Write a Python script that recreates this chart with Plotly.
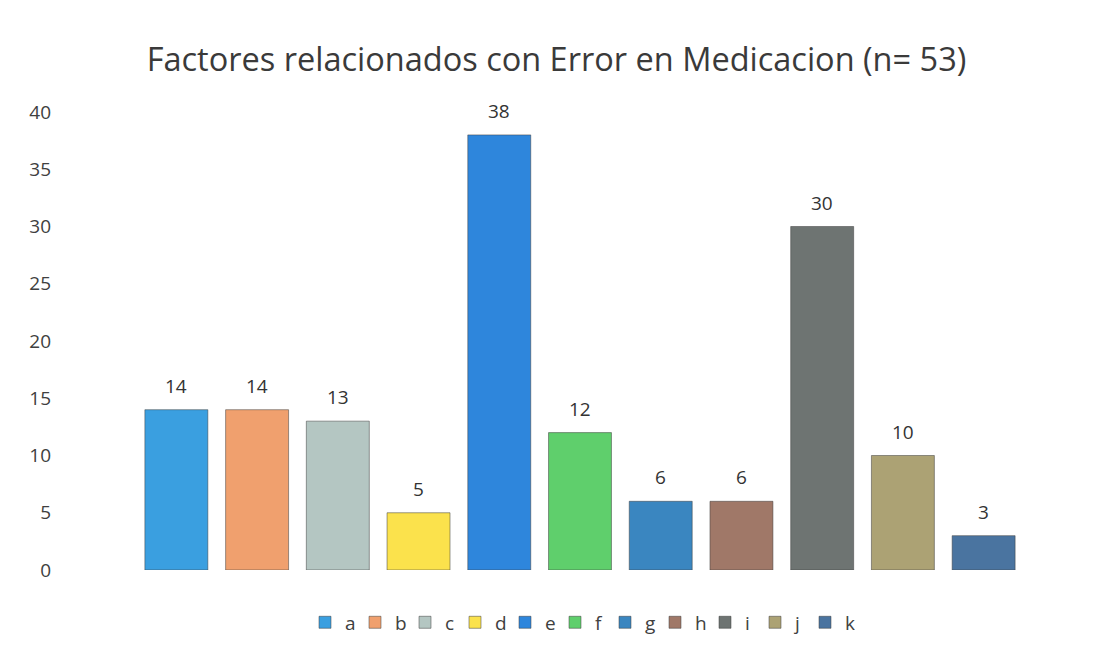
import plotly.graph_objects as go

categories = ["a", "b", "c", "d", "e", "f", "g", "h", "i", "j", "k"]
values = [14, 14, 13, 5, 38, 12, 6, 6, 30, 10, 3]
colors = ["#3a9fe0", "#f0a06e", "#b4c6c2", "#fbe24c", "#2e86dc", "#5fcf6c",
          "#3a86c0", "#a07868", "#6e7472", "#aca274", "#4a74a0"]
y_ticks = [0, 5, 10, 15, 20, 25, 30, 35, 40]
title = "Factores relacionados con Error en Medicacion (n= 53)"

fig = go.Figure()
for cat, val, col in zip(categories, values, colors):
    fig.add_trace(go.Bar(
        x=[cat], y=[val], name=cat,
        marker=dict(color=col, line=dict(color="rgba(60,60,60,0.5)", width=1)),
        width=0.78,
    ))
    fig.add_annotation(x=cat, y=val, text=str(val), showarrow=False,
                       yshift=24, font=dict(size=19, color="#333333", family="Open Sans"))

fig.update_layout(
    width=1097, height=646,
    paper_bgcolor="white", plot_bgcolor="white",
    barmode="overlay",
    margin=dict(l=128, r=81, t=104, b=84, autoexpand=False),
    title=dict(text=title, x=0.5, xanchor="center", y=0.92, yanchor="middle",
               font=dict(size=32.5, color="#3a3a3a", family="Open Sans")),
    font=dict(family="Open Sans", color="#404040"),
    showlegend=True,
    legend=dict(orientation="h", x=0.5, xanchor="center", y=-0.073, yanchor="top",
                font=dict(size=19, color="#404040"), itemwidth=30,
                entrywidth=5, entrywidthmode="pixels",
                traceorder="normal"),
    xaxis=dict(categoryorder="array", categoryarray=categories,
               showticklabels=False, showgrid=False, zeroline=False,
               showline=False),
    yaxis=dict(range=[0, 40], tickvals=y_ticks, showgrid=False, zeroline=False,
               showline=False, ticks="", ticklabelstandoff=84,
               tickfont=dict(size=19, color="#404040")),
)

fig.write_html("out.html")
